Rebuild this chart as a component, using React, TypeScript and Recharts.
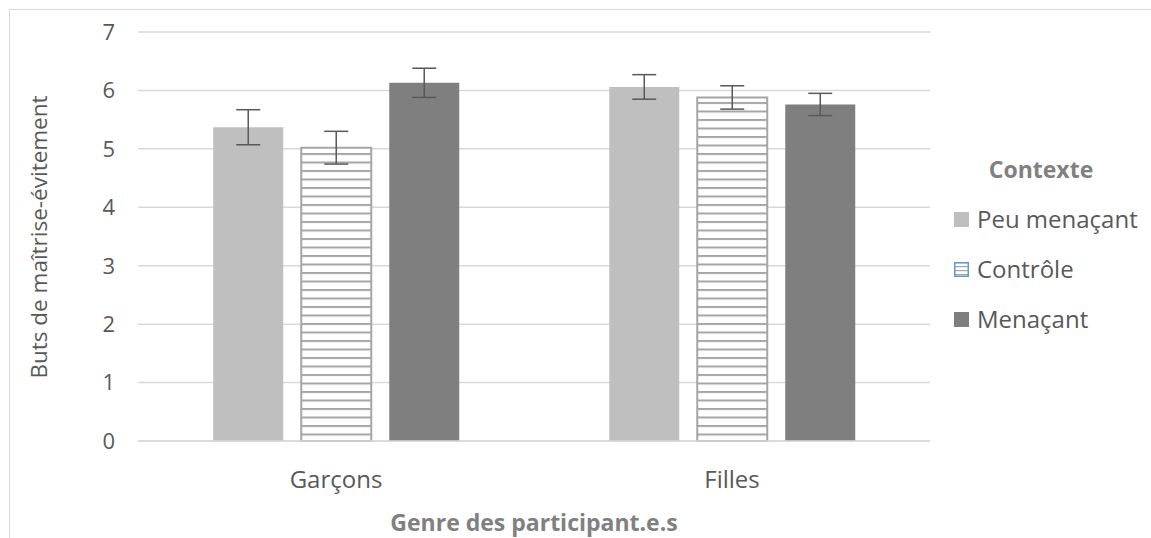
import React from 'react';
import { BarChart, Bar, XAxis, YAxis, CartesianGrid, ErrorBar } from 'recharts';

const genres = ['Garçons', 'Filles'];
const peuMenacant = [5.37, 6.06];
const peuMenacantErr = [0.3, 0.21];
const controle = [5.02, 5.88];
const controleErr = [0.28, 0.2];
const menacant = [6.13, 5.76];
const menacantErr = [0.25, 0.19];
const yTicks = [0, 1, 2, 3, 4, 5, 6, 7];

const data = genres.map((g, i) => ({
  genre: g,
  peu: peuMenacant[i],
  peuErr: peuMenacantErr[i],
  ctrl: controle[i],
  ctrlErr: controleErr[i],
  men: menacant[i],
  menErr: menacantErr[i],
}));

const legendItems = [
  { name: 'Peu menaçant', fill: '#bfbfbf', border: '' },
  { name: 'Contrôle', fill: 'url(#hatchLegend)', border: '#5b9bd5' },
  { name: 'Menaçant', fill: '#7f7f7f', border: '' },
];

const FONT = '"Open Sans", sans-serif';
const TEXT = '#595959';

const App: React.FC = () => {
  return (
    <div style={{ position: 'absolute', top: 0, left: 0, width: 1151, height: 538, overflow: 'hidden', background: '#fff', fontFamily: FONT }}>
      <svg width="0" height="0" style={{ position: 'absolute' }}>
        <defs>
          <pattern id="hatch" width="8" height="8.5" patternUnits="userSpaceOnUse">
            <rect width="8" height="8.5" fill="#fff" />
            <rect y="0" width="8" height="2" fill="#a6a6a6" />
          </pattern>
          <pattern id="hatchLegend" width="4" height="4" patternUnits="userSpaceOnUse">
            <rect width="4" height="4" fill="#fff" />
            <rect y="0" width="4" height="1.2" fill="#a6a6a6" />
          </pattern>
        </defs>
      </svg>
      <div style={{ position: 'absolute', left: 9, top: 9, width: 1300, height: 700, borderLeft: '1.5px solid #d9d9d9', borderTop: '1.5px solid #d9d9d9' }} />
      <div style={{ position: 'absolute', left: 0, top: 0 }}>
        <BarChart
          width={1151}
          height={538}
          data={data}
          margin={{ top: 32, right: 221, bottom: 57, left: 78 }}
          barCategoryGap="19%"
          barGap={18}
        >
          <CartesianGrid vertical={false} stroke="#d9d9d9" strokeWidth={1.5} />
          <XAxis
            dataKey="genre"
            axisLine={{ stroke: '#d9d9d9', strokeWidth: 1.5 }}
            tickLine={false}
            tickSize={0}
            tickMargin={30}
            height={40}
            tick={{ fill: TEXT, fontSize: 24, fontFamily: FONT }}
          />
          <YAxis
            domain={[0, 7]}
            ticks={yTicks}
            axisLine={false}
            tickLine={false}
            tickSize={0}
            tickMargin={23}
            width={60}
            tick={{ fill: TEXT, fontSize: 22, fontFamily: FONT }}
          />
          <Bar dataKey="peu" fill="#bfbfbf" isAnimationActive={false}>
            <ErrorBar dataKey="peuErr" stroke="#595959" strokeWidth={1.5} width={12} />
          </Bar>
          <Bar dataKey="ctrl" fill="url(#hatch)" stroke="#a6a6a6" strokeWidth={2} isAnimationActive={false}>
            <ErrorBar dataKey="ctrlErr" stroke="#595959" strokeWidth={1.5} width={12} />
          </Bar>
          <Bar dataKey="men" fill="#7f7f7f" isAnimationActive={false}>
            <ErrorBar dataKey="menErr" stroke="#595959" strokeWidth={1.5} width={12} />
          </Bar>
        </BarChart>
      </div>
      <div
        style={{
          position: 'absolute',
          left: 38,
          top: 237,
          transform: 'translate(-50%, -50%) rotate(-90deg)',
          whiteSpace: 'nowrap',
          fontSize: 22.5,
          color: TEXT,
        }}
      >
        Buts de maîtrise-évitement
      </div>
      <div
        style={{
          position: 'absolute',
          left: 534,
          top: 522,
          transform: 'translate(-50%, -50%)',
          whiteSpace: 'nowrap',
          fontSize: 23,
          fontWeight: 700,
          color: '#808080',
        }}
      >
        Genre des participant.e.s
      </div>
      <div
        style={{
          position: 'absolute',
          left: 1041,
          top: 169,
          transform: 'translate(-50%, -50%)',
          whiteSpace: 'nowrap',
          fontSize: 23,
          fontWeight: 700,
          color: '#808080',
        }}
      >
        Contexte
      </div>
      {legendItems.map((it, i) => (
        <div
          key={i}
          style={{
            position: 'absolute',
            left: 954,
            top: 219 + i * 50,
            transform: 'translateY(-50%)',
            display: 'flex',
            alignItems: 'center',
            whiteSpace: 'nowrap',
            fontSize: 24,
            color: TEXT,
          }}
        >
          <svg width="15" height="15" style={{ marginRight: 8 }}>
            <rect
              x={it.border ? 0.75 : 0}
              y={it.border ? 0.75 : 0}
              width={it.border ? 13.5 : 15}
              height={it.border ? 13.5 : 15}
              fill={it.fill}
              stroke={it.border || undefined}
              strokeWidth={1.5}
            />
          </svg>
          <span style={{ lineHeight: '30px' }}>{it.name}</span>
        </div>
      ))}
    </div>
  );
};

export default App;
